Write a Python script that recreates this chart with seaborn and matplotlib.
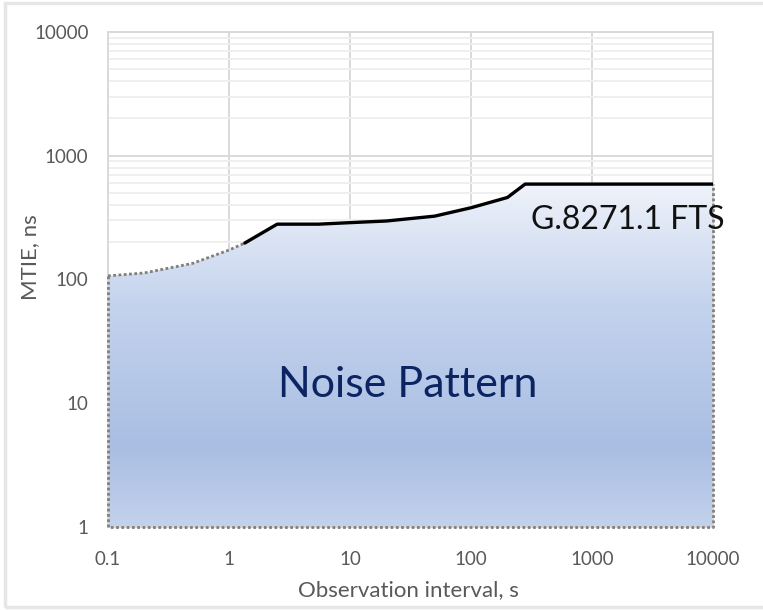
import numpy as np
import pandas as pd
import matplotlib
matplotlib.use("Agg")
import matplotlib.pyplot as plt
from matplotlib.colors import LinearSegmentedColormap
from matplotlib.patches import Rectangle
import seaborn as sns

# MTIE mask, dotted (extrapolated) section and solid (specified) section
tau_lo = [0.1, 0.2, 0.5, 1.0, 1.35]
mtie_lo = [107, 113, 135, 173, 197]
tau_hi = [1.35, 2.5, 5.5, 10, 20, 50, 100, 200, 280, 10000]
mtie_hi = [197, 280, 280, 288, 297, 325, 380, 460, 590, 590]

x_ticks = [0.1, 1, 10, 100, 1000, 10000]
x_labels = ["0.1", "1", "10", "100", "1000", "10000"]
y_ticks = [1, 10, 100, 1000, 10000]
y_labels = ["1", "10", "100", "1000", "10000"]

sns.set_theme(style="white")
plt.rcParams["font.family"] = ["Lato", "DejaVu Sans"]

fig = plt.figure(figsize=(7.63, 6.10), dpi=100)
ax = fig.add_axes([108 / 763, 1 - 527 / 610, 605 / 763, 495 / 610])
ax.set_xscale("log")
ax.set_yscale("log")
ax.set_xlim(x_ticks[0], x_ticks[-1])
ax.set_ylim(y_ticks[0], y_ticks[-1])

# grid
ax.set_axisbelow(True)
ax.grid(True, which="major", axis="both", color="#D9D9D9", lw=1.4)
ax.grid(True, which="minor", axis="y", color="#EFEFEF", lw=1.4)
ax.grid(False, which="minor", axis="x")
for s in ax.spines.values():
    s.set_color("#D9D9D9")
    s.set_linewidth(1.4)

# gradient-filled region under the mask
tau_all = tau_lo + tau_hi[1:]
mtie_all = mtie_lo + mtie_hi[1:]
poly = ax.fill_between(tau_all, mtie_all, y_ticks[0], color="none", lw=0)
cmap = LinearSegmentedColormap.from_list(
    "fill",
    [(0.0, "#C3D2EC"), (0.16, "#A9BEE3"), (0.45, "#C4D3ED"),
     (0.69, "#EEF2FA"), (1.0, "#FFFFFF")],
)
grad = np.linspace(0, 1, 256).reshape(-1, 1)
img = ax.imshow(grad, cmap=cmap, vmin=0, vmax=1, aspect="auto", origin="lower",
                extent=(0, 1, 0, 1), transform=ax.transAxes, zorder=1,
                interpolation="bilinear")
clip = poly.get_paths()[0]
img.set_clip_path(clip, transform=ax.transData)

dot = dict(color="#7F7F7F", lw=2.0, linestyle=(0, (1.0, 0.9)),
           dash_capstyle="butt", zorder=3)

# dotted outline: left, bottom and right edges of the region
ax.plot([tau_lo[0], tau_lo[0], tau_hi[-1], tau_hi[-1]],
        [mtie_lo[0], y_ticks[0], y_ticks[0], mtie_hi[-1]],
        clip_on=False, **dot)

df_lo = pd.DataFrame({"tau": tau_lo, "mtie": mtie_lo})
df_hi = pd.DataFrame({"tau": tau_hi, "mtie": mtie_hi})
sns.lineplot(data=df_lo, x="tau", y="mtie", ax=ax, sort=False, estimator=None, **dot)
sns.lineplot(data=df_hi, x="tau", y="mtie", ax=ax, sort=False, estimator=None,
             color="black", lw=2.4, zorder=4, solid_joinstyle="round")

ax.set_xticks(x_ticks)
ax.set_xticklabels(x_labels)
ax.set_yticks(y_ticks)
ax.set_yticklabels(y_labels)
ax.yaxis.set_minor_locator(matplotlib.ticker.LogLocator(base=10, subs=np.arange(2, 10)))
ax.yaxis.set_minor_formatter(matplotlib.ticker.NullFormatter())
ax.xaxis.set_minor_locator(matplotlib.ticker.NullLocator())
ax.tick_params(axis="both", which="both", length=0, labelsize=13.5,
               labelcolor="#595959")
ax.tick_params(axis="x", pad=17)
ax.tick_params(axis="y", pad=14)

ax.set_xlabel("Observation interval, s", fontsize=16, color="#595959")
ax.set_ylabel("MTIE, ns", fontsize=16, color="#595959")
ax.xaxis.label.set_va("center")
ax.yaxis.label.set_va("center")
ax.xaxis.set_label_coords(0.496, -0.127)
ax.yaxis.set_label_coords(-0.129, 0.545)

ax.text(0.495, 0.287, "Noise Pattern", transform=ax.transAxes, ha="center",
        va="center", fontsize=31, color="#0C2461", zorder=5)
ax.text(0.86, 0.62, "G.8271.1 FTS", transform=ax.transAxes, ha="center",
        va="center", fontsize=23, color="#111111", zorder=5)

# light frame round the chart area
fig.patches.append(Rectangle((5 / 763, 3 / 610), 1.0, 1 - 6 / 610,
                             transform=fig.transFigure, fill=False,
                             edgecolor="#E6E6E6", lw=2.5))

fig.savefig("out.png", dpi=100)
